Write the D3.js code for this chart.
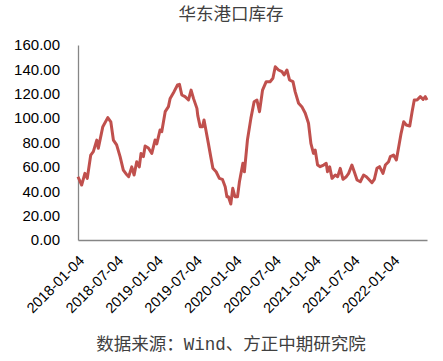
<!DOCTYPE html>
<html><head><meta charset="utf-8">
<script src="https://cdn.jsdelivr.net/npm/d3@7"></script>
<style>body{margin:0;background:#fff}</style>
</head><body>
<svg id="c" width="443" height="361"></svg>
<script>
const title = "华东港口库存";
const source = "数据来源：Wind、方正中期研究院";
const yTicks = [0, 20, 40, 60, 80, 100, 120, 140, 160];
const xTickLabels = ["2018-01-04","2018-07-04","2019-01-04","2019-07-04","2020-01-04","2020-07-04","2021-01-04","2021-07-04","2022-01-04"];
const dates = ["2018-01-04","2018-01-21","2018-02-05","2018-02-16","2018-03-04","2018-03-16","2018-04-01","2018-04-08","2018-04-29","2018-05-22",
"2018-06-05","2018-06-17","2018-07-02","2018-07-18","2018-08-02","2018-08-15","2018-08-27","2018-09-10","2018-09-21","2018-10-03",
"2018-10-15","2018-10-23","2018-11-03","2018-11-11","2018-11-26","2018-12-12","2018-12-27","2019-01-04","2019-01-19","2019-01-27",
"2019-02-12","2019-02-27","2019-03-07","2019-03-25","2019-04-10","2019-04-19","2019-04-30","2019-05-15","2019-05-31","2019-06-12",
"2019-06-23","2019-07-09","2019-07-13","2019-07-24","2019-08-04","2019-08-11","2019-08-21","2019-08-31","2019-09-11","2019-09-21",
"2019-10-06","2019-10-21","2019-11-04","2019-11-17","2019-11-25","2019-12-02","2019-12-13","2019-12-22","2020-01-01","2020-01-13",
"2020-01-22","2020-02-07","2020-02-14","2020-02-28","2020-03-15","2020-03-30","2020-04-12","2020-04-24","2020-05-08","2020-05-25",
"2020-06-12","2020-06-25","2020-07-06","2020-07-21","2020-08-06","2020-08-16","2020-08-29","2020-09-10","2020-09-26","2020-10-06",
"2020-10-22","2020-11-06","2020-11-22","2020-12-07","2020-12-18","2020-12-30","2021-01-07","2021-01-18","2021-01-30","2021-02-15",
"2021-02-27","2021-03-05","2021-03-15","2021-03-26","2021-04-10","2021-04-21","2021-05-03","2021-05-16","2021-05-31","2021-06-11",
"2021-06-26","2021-07-07","2021-07-20","2021-08-04","2021-08-19","2021-09-01","2021-09-11","2021-09-27","2021-10-08","2021-10-20",
"2021-11-01","2021-11-17","2021-11-28","2021-12-13","2021-12-21","2022-01-05","2022-01-18","2022-01-29","2022-02-09","2022-02-21",
"2022-03-05","2022-03-21","2022-04-01","2022-04-11","2022-04-24","2022-05-09","2022-05-22","2022-06-01","2022-06-09"];
const values = [51.9,45.1,54.7,50.6,69.7,72.5,82,75.2,93,100.4,
97,82,78,68.4,57.4,54.2,52,60,53.3,64.2,
60,71,68.4,77.1,75.5,71,82,78.8,90.2,88.9,
105.3,109.4,116.2,121.7,127.2,127.7,119,117.6,114.9,123,
116.2,108,102,93,93,98.5,88.9,79.3,68.4,58.8,
56,50.6,49.8,43.7,35.5,35.5,29.5,42.4,35.5,35.5,
47.8,62.9,56,82,99.8,113.5,114.9,105.3,123,129.9,
129.9,132.7,142.2,139.5,138.1,135.4,139.5,131.3,129.9,121.7,
112.2,109.4,104,95.8,79.3,71.1,73.8,61.5,60.2,61.5,
62.9,56,60,50.6,53.3,51.9,58.8,49.8,51.9,54.7,
61.5,56,49.2,47.8,53.3,51.9,50,47,49.8,58.8,
60.2,54.7,61.5,64.2,68.4,69.7,65.6,76.6,87.5,97,
94.4,93.5,105.3,114.9,114.9,117.6,115.4,117.6,114.9];

const parse = d3.timeParse("%Y-%m-%d");
const data = dates.map((d, i) => ({date: parse(d), value: values[i]}));
const svg = d3.select("#c");

const x = d3.scaleTime().domain([parse(xTickLabels[0]), data[data.length-1].date]).range([78, 427]);
const y = d3.scaleLinear().domain([0, 160]).range([240, 45]);

// title
svg.append("text").attr("x", 231).attr("y", 15).attr("text-anchor", "middle")
  .attr("dominant-baseline", "middle")
  .style("font-family", "'Noto Sans CJK SC'").style("font-size", "17.5px").style("fill", "#404040")
  .text(title);

// y axis
const ya = svg.append("g").attr("transform", "translate(78,0)")
  .call(d3.axisLeft(y).tickValues(yTicks).tickSize(0).tickPadding(18).tickFormat(d3.format(".2f")));
ya.select(".domain").attr("stroke", "#868686").attr("stroke-width", 1.3);
ya.selectAll("text").style("font-family", "'Liberation Sans'").style("font-size", "15px").style("fill", "#000");

// x axis
const xa = svg.append("g").attr("transform", "translate(0,240)")
  .call(d3.axisBottom(x).tickValues(xTickLabels.map(parse)).tickSize(0).tickFormat(d3.timeFormat("%Y-%m-%d")));
xa.select(".domain").attr("stroke", "#868686").attr("stroke-width", 1.3);
xa.selectAll("text")
  .style("font-family", "'Liberation Sans'").style("font-size", "14.5px").style("fill", "#000")
  .attr("text-anchor", "end").attr("dy", "0.35em").attr("y", 0)
  .attr("transform", "translate(3,18) rotate(-45)");

// line
svg.append("path").datum(data)
  .attr("fill", "none").attr("stroke", "#C0504D").attr("stroke-width", 3).attr("stroke-linejoin", "round")
  .attr("d", d3.line().x(d => x(d.date)).y(d => y(d.value)));

// source
svg.append("text").attr("x", 231).attr("y", 345).attr("text-anchor", "middle")
  .attr("dominant-baseline", "middle")
  .style("font-family", "'Liberation Mono','Noto Sans CJK SC'").style("font-size", "17.5px").style("fill", "#404040")
  .text(source);
</script>
</body></html>
